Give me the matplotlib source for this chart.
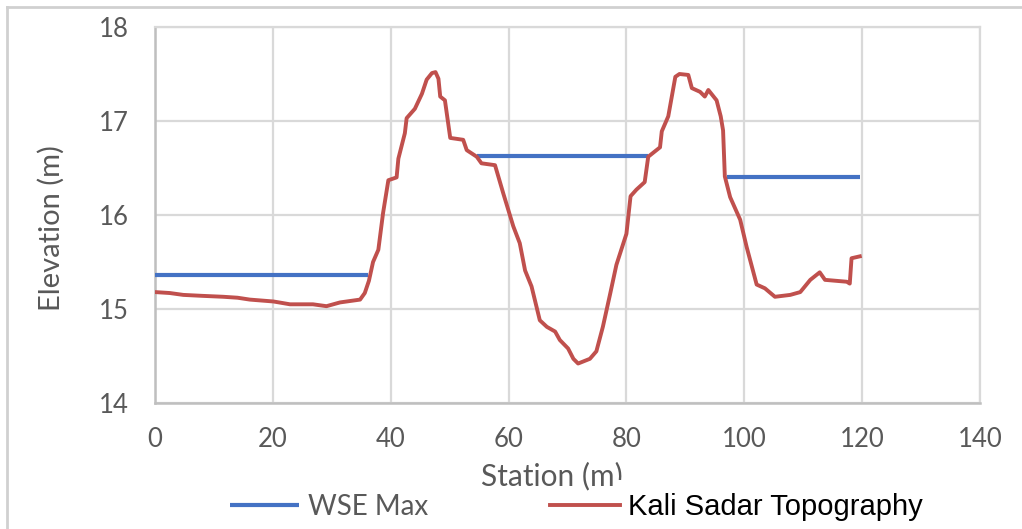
import numpy as np
import matplotlib
matplotlib.use('Agg')
import matplotlib.pyplot as plt
from matplotlib.patches import Rectangle
from matplotlib.lines import Line2D

# data
station = [0, 2.5, 4.8, 8, 11.6, 14, 16.1, 20.1, 22.9, 26.8, 29.1, 31.4, 34.8, 35.6,
           36.3, 37.0, 37.9, 38.7, 39.6, 41.0, 41.3, 42.4, 42.7, 44.1, 45.3, 46.1,
           47.0, 47.6, 48.1, 48.4, 49.2, 50.1, 52.3, 52.9, 54.6, 55.4, 57.7, 59.1,
           60.8, 61.9, 62.8, 63.9, 65.3, 66.5, 67.9, 68.7, 70.1, 71.0, 71.8, 73.8,
           74.9, 76.0, 77.2, 78.3, 80.0, 80.7, 81.7, 83.1, 83.7, 85.7, 86.0, 87.1,
           88.3, 89.0, 90.5, 91.1, 92.5, 93.3, 93.9, 95.3, 96.0, 96.4, 96.7, 97.6,
           99.3, 100.4, 102.1, 103.5, 105.2, 107.8, 109.5, 111.2, 112.8, 113.7,
           117.4, 117.9, 118.2, 119.6]
topo = [15.18, 15.17, 15.15, 15.14, 15.13, 15.12, 15.10, 15.08, 15.05, 15.05, 15.03,
        15.07, 15.10, 15.17, 15.30, 15.50, 15.63, 16.02, 16.37, 16.40, 16.60, 16.87,
        17.03, 17.13, 17.29, 17.44, 17.51, 17.52, 17.45, 17.26, 17.22, 16.82, 16.80,
        16.69, 16.62, 16.55, 16.53, 16.23, 15.88, 15.70, 15.41, 15.24, 14.88, 14.81,
        14.76, 14.67, 14.58, 14.47, 14.42, 14.47, 14.55, 14.81, 15.15, 15.47, 15.80,
        16.20, 16.27, 16.35, 16.62, 16.72, 16.89, 17.05, 17.47, 17.50, 17.49, 17.35,
        17.31, 17.26, 17.33, 17.22, 17.05, 16.90, 16.41, 16.19, 15.95, 15.66, 15.26,
        15.22, 15.13, 15.15, 15.18, 15.31, 15.39, 15.31, 15.29, 15.27, 15.54, 15.56]

# WSE max segments (nan breaks between them)
wse_x = [0, 36.2, np.nan, 54.6, 83.7, np.nan, 97.0, 119.6]
wse_y = [15.36, 15.36, np.nan, 16.63, 16.63, np.nan, 16.40, 16.40]

xticks = [0, 20, 40, 60, 80, 100, 120, 140]
yticks = [14, 15, 16, 17, 18]

blue = '#4472C4'
red = '#C0504D'
txt = '#595959'
gridc = '#D9D9D9'

plt.rcParams['font.family'] = ['Lato', 'DejaVu Sans']

fig = plt.figure(figsize=(10.22, 5.29), dpi=100)
ax = fig.add_axes([155/1022, 1-403/529, 825/1022, 376/529])

ax.plot(wse_x, wse_y, color=blue, lw=3, solid_capstyle='butt', label='WSE Max', zorder=3)
ax.plot(station, topo, color=red, lw=2.8, label='Kali Sadar Topography', zorder=4)

ax.set_xlim(0, 140)
ax.set_ylim(14, 18)
ax.set_xticks(xticks)
ax.set_yticks(yticks)
ax.grid(True, color=gridc, lw=1.6)
ax.set_axisbelow(True)
for s in ['top', 'right']:
    ax.spines[s].set_color(gridc)
    ax.spines[s].set_linewidth(1.6)
for s in ['left', 'bottom']:
    ax.spines[s].set_color('#BFBFBF')
    ax.spines[s].set_linewidth(1.8)
ax.tick_params(length=0, labelsize=18.5, labelcolor=txt)
ax.tick_params(axis='y', pad=19)
ax.tick_params(axis='x', pad=17)

ax.set_xlabel('Station (m)', fontsize=21.5, color=txt)
ax.set_ylabel('Elevation (m)', fontsize=21, color=txt)
ax.xaxis.set_label_coords(0.481, -0.155)
ax.yaxis.set_label_coords(-0.11, 0.465)

# white patch under the second legend entry (hides the end of the label like the original)
fig.patches.append(Rectangle((615/1022, 1-527/529), 330/1022, 47/529,
                             transform=fig.transFigure, facecolor='white',
                             edgecolor='none', zorder=1))
# outer border, top and left only
fig.add_artist(Line2D([7/1022, 1], [1-7/529, 1-7/529], color='#D0D0D0', lw=2))
fig.add_artist(Line2D([7/1022, 7/1022], [1-7/529, 0], color='#D0D0D0', lw=2))

h, l = ax.get_legend_handles_labels()
leg = fig.legend(h, l, ncol=2, loc='center left', bbox_to_anchor=(230/1022, 1-507/529),
                 frameon=False, fontsize=20, handlelength=2.5, handletextpad=0.3,
                 columnspacing=4.4, borderpad=0, borderaxespad=0)
t1, t2 = leg.get_texts()
t1.set_color(txt)
t2.set_color('black')
t2.set_family(['Liberation Sans', 'DejaVu Sans'])
t2.set_fontsize(21)

fig.savefig('out.png', dpi=100, facecolor='white')
